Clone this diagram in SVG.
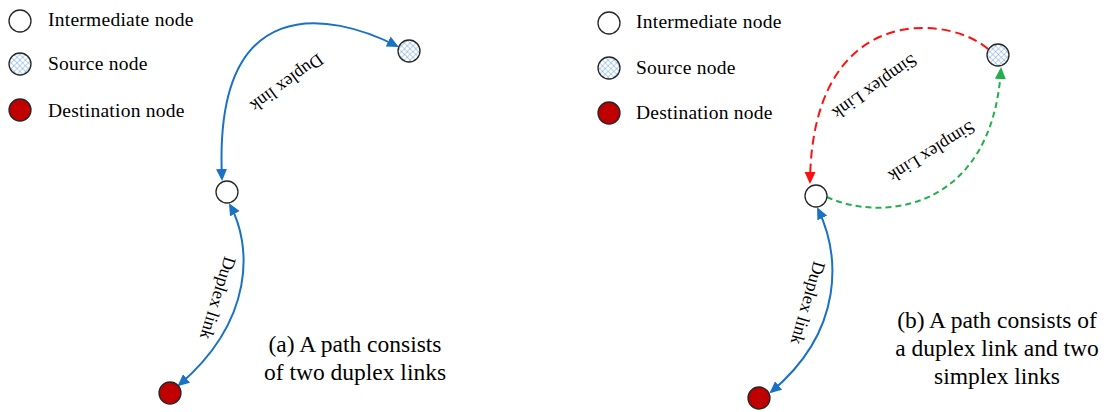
<svg xmlns="http://www.w3.org/2000/svg" width="1107" height="412" viewBox="0 0 1107 412">
<style>
text{font-family:'Liberation Serif','Times New Roman',serif;fill:#000}
.leg{font-size:19.5px;letter-spacing:0.25px}
.lab{font-size:18px;text-anchor:middle}
.cap{font-size:23.5px;text-anchor:middle}
.node{stroke:#262626;stroke-width:1.3}
.inter{fill:#fff}
.src{fill:url(#hatch)}
.dst{fill:#C00000}
.blue{fill:none;stroke:#1a72c4;stroke-width:2}
.red{fill:none;stroke:#ff1010;stroke-width:2;stroke-dasharray:9 5}
.green{fill:none;stroke:#22b04c;stroke-width:2;stroke-dasharray:6 4}
</style>
<defs>
<pattern id="hatch" width="4" height="4" patternUnits="userSpaceOnUse" patternTransform="rotate(45)">
<rect width="4" height="4" fill="#fff"/>
<path d="M0 0H4M0 0V4" stroke="#6fa8dc" stroke-width="1"/>
</pattern>
<marker id="ab" markerUnits="userSpaceOnUse" markerWidth="13" markerHeight="12" refX="10" refY="5.5" orient="auto-start-reverse" viewBox="0 0 13 12">
<path d="M0 0L12 5.5L0 11z" fill="#1a72c4"/>
</marker>
<marker id="ar" markerUnits="userSpaceOnUse" markerWidth="13" markerHeight="12" refX="10" refY="5.5" orient="auto" viewBox="0 0 13 12">
<path d="M0 0L12 5.5L0 11z" fill="#ff1010"/>
</marker>
<marker id="ag" markerUnits="userSpaceOnUse" markerWidth="13" markerHeight="12" refX="10" refY="5.5" orient="auto" viewBox="0 0 13 12">
<path d="M0 0L12 5.5L0 11z" fill="#22b04c"/>
</marker>
</defs>
<rect width="1107" height="412" fill="#fff"/>

<g id="legend-a">
<circle class="node inter" cx="20" cy="21" r="11"/>
<circle class="node src" cx="20" cy="64" r="11"/>
<circle class="node dst" cx="20" cy="110" r="11"/>
<text class="leg" x="48" y="26">Intermediate node</text>
<text class="leg" x="48" y="70">Source node</text>
<text class="leg" x="48" y="117">Destination node</text>
</g>
<g id="legend-b">
<circle class="node inter" cx="609" cy="23" r="11"/>
<circle class="node src" cx="609" cy="68" r="11"/>
<circle class="node dst" cx="609" cy="113" r="11"/>
<text class="leg" x="636" y="28">Intermediate node</text>
<text class="leg" x="636" y="74">Source node</text>
<text class="leg" x="636" y="119">Destination node</text>
</g>

<g id="connectors">
<path class="blue" d="M397 46C330 12 213 -10 222 179" marker-start="url(#ab)" marker-end="url(#ab)"/>
<path class="blue" d="M230 205C252 245 255 320 179 385" marker-start="url(#ab)" marker-end="url(#ab)"/>
<path class="red" d="M988 49C950 15 812 0 810 182" marker-end="url(#ar)"/>
<path class="green" d="M827 197C880 222 992 212 1001 69" marker-end="url(#ag)"/>
<path class="blue" d="M818 209C840 255 845 330 771 392" marker-start="url(#ab)" marker-end="url(#ab)"/>
<text class="lab" transform="translate(287 83) rotate(144)" dy="0.33em">Duplex link</text>
<text class="lab" transform="translate(218 298) rotate(107)" dy="0.33em">Duplex link</text>
<text class="lab" transform="translate(875 87) rotate(145)" dy="0.33em">Simplex Link</text>
<text class="lab" transform="translate(932 152) rotate(148)" dy="0.33em">Simplex Link</text>
<text class="lab" transform="translate(808 303) rotate(106)" dy="0.33em">Duplex link</text>
</g>

<g id="a-intermediate"><circle class="node inter" cx="227" cy="192" r="11"/></g>
<g id="a-source"><circle class="node src" cx="409" cy="51" r="11"/></g>
<g id="a-destination"><circle class="node dst" cx="170" cy="393" r="11"/></g>
<g id="b-intermediate"><circle class="node inter" cx="816" cy="196" r="11"/></g>
<g id="b-source"><circle class="node src" cx="998" cy="55" r="11"/></g>
<g id="b-destination"><circle class="node dst" cx="759" cy="398" r="11"/></g>

<g id="captions">
<text class="cap" x="355" y="352">(a) A path consists</text>
<text class="cap" x="355" y="380">of two duplex links</text>
<text class="cap" x="997" y="328">(b) A path consists of</text>
<text class="cap" x="997" y="356">a duplex link and two</text>
<text class="cap" x="997" y="384">simplex links</text>
</g>
</svg>
